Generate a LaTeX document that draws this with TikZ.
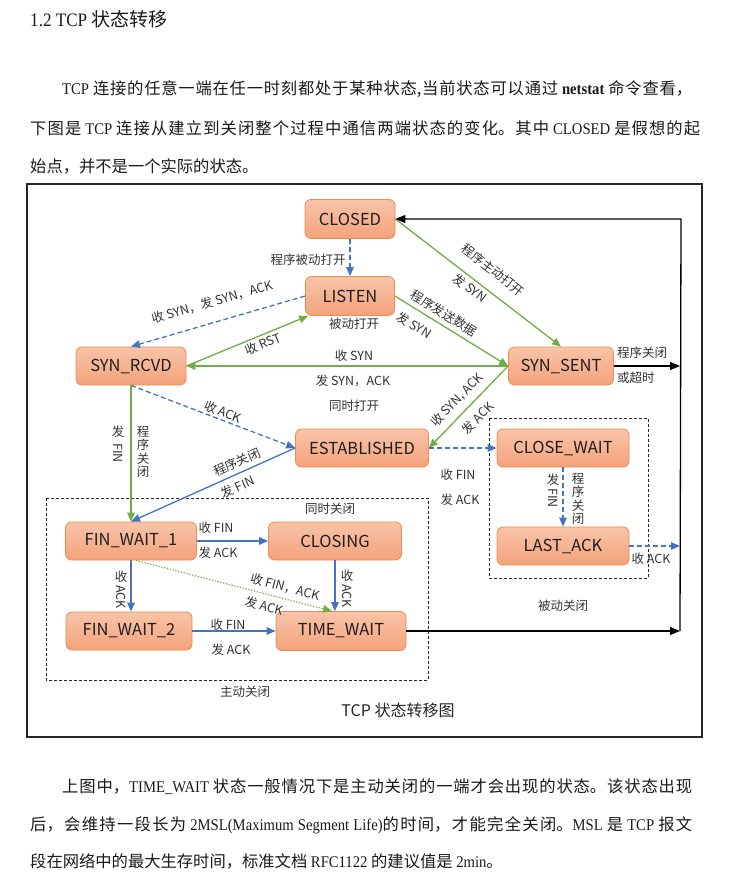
\documentclass[tikz,border=0pt]{standalone}
\usepackage{fontspec}
\setmainfont{Liberation Serif}[FakeStretch=0.9]
\newfontfamily\cjk{Noto Sans CJK SC}
\usetikzlibrary{arrows.meta,calc}

\definecolor{stateTop}{HTML}{F8C4A9}
\definecolor{stateBot}{HTML}{F4A27B}
\definecolor{stateEdge}{HTML}{F08C4C}
\definecolor{flowBlue}{HTML}{4472C4}
\definecolor{flowGreen}{HTML}{70AD47}
\definecolor{inkGray}{HTML}{333333}
\definecolor{bodyInk}{HTML}{1A1A1A}

% CJK run inside serif body text
\newcommand\zh[1]{{\cjk #1}}
% one justified line of body text, stretched to the given width
\newcommand\bodyline[2]{\parbox[t]{#1}{\parfillskip=0pt\tolerance=10000
  \XeTeXlinebreaklocale "zh"\XeTeXlinebreakskip=0pt plus 6pt\noindent #2}}

\begin{document}
\begin{tikzpicture}[x=1pt,y=-1pt,
  state/.style={rectangle, rounded corners=6pt, draw=stateEdge, line width=0.8pt,
    top color=stateTop, bottom color=stateBot, inner sep=0pt,
    font=\cjk\fontsize{16.5}{18}\selectfont, text=black!88},
  lbl/.style={inner sep=0pt, font=\cjk\fontsize{12.5}{14}\selectfont, text=inkGray},
  vlbl/.style={lbl, align=center, font=\cjk\fontsize{12.5}{13.4}\selectfont},
  tip/.style={-{Triangle[length=9pt,width=7.5pt]}},
  bigtip/.style={-{Triangle[length=10pt,width=8pt]}},
  blueflow/.style={tip, draw=flowBlue, line width=1.3pt},
  greenflow/.style={tip, draw=flowGreen, line width=1.3pt},
  blackflow/.style={bigtip, draw=black, line width=1.3pt},
  dashflow/.style={dash pattern=on 5pt off 3pt},
  dotflow/.style={dash pattern=on 1.3pt off 1.6pt},
  groupbox/.style={draw=black!85, line width=0.9pt, dash pattern=on 3pt off 2pt},
  body/.style={inner sep=0pt, anchor=base west, font=\fontsize{16.3}{20}\selectfont, text=bodyInk}
]
\useasboundingbox (0,0) rectangle (743,883);
\fill[white] (0,0) rectangle (743,883);

% ---------- heading and opening paragraph ----------
\node[body, font=\fontsize{19}{22}\selectfont] (head) at (30,27) {1.2 TCP \zh{状态转移}};
\node[body] (p1) at (62,94) {\bodyline{630pt}{TCP \zh{连接的任意一端在任一时刻都处于某种状态,当前状态可以通过} \textbf{netstat} \zh{命令查看，}}};
\node[body] (p2) at (30,134) {\bodyline{670pt}{\zh{下图是} TCP \zh{连接从建立到关闭整个过程中通信两端状态的变化。其中} CLOSED \zh{是假想的起}}};
\node[body] (p3) at (30,172) {\zh{始点，并不是一个实际的状态。}};

% ---------- figure frame ----------
\draw[line width=1.2pt, black!85] (27,184) rectangle (702,737);
\draw[groupbox] (46,498) rectangle (428,680);
\draw[groupbox] (489,418) rectangle (648,578);

% ---------- states ----------
\node[state, minimum width=90pt,  minimum height=39pt] (closed)    at (350,219) {CLOSED};
\node[state, minimum width=89pt,  minimum height=39pt] (listen)    at (350,296) {LISTEN};
\node[state, minimum width=110pt, minimum height=38pt] (synrcvd)   at (131,366) {SYN\_RCVD};
\node[state, minimum width=105pt, minimum height=38pt] (synsent)   at (561,366) {SYN\_SENT};
\node[state, minimum width=133pt, minimum height=38pt] (estab)     at (362,448) {ESTABLISHED};
\node[state, minimum width=132pt, minimum height=38pt] (closewait) at (563,448) {CLOSE\_WAIT};
\node[state, minimum width=132pt, minimum height=38pt] (lastack)   at (563,546) {LAST\_ACK};
\node[state, minimum width=131pt, minimum height=38pt] (fw1)       at (131,541) {FIN\_WAIT\_1};
\node[state, minimum width=133pt, minimum height=38pt] (closing)   at (335,541) {CLOSING};
\node[state, minimum width=126pt, minimum height=38pt] (fw2)       at (129,631) {FIN\_WAIT\_2};
\node[state, minimum width=130pt, minimum height=39pt] (timewait)  at (341,631) {TIME\_WAIT};

% ---------- return rail on the right ----------
\coordinate (railTop) at (681,219);
\coordinate (railBot) at (680,631);

% ---------- transitions ----------
\draw[blueflow, dashflow] (closed.south) -- (listen.north);
\draw[blueflow, dashflow] (listen.west) -- (synrcvd.north);
\draw[greenflow] (synrcvd.east) -- ([xshift=3pt]listen.south west);
\draw[greenflow] (synsent.west) -- (synrcvd.east);
\draw[greenflow] (closed.east) -- (synsent.north);
\draw[greenflow] (listen.east) -- (synsent.west);
\draw[greenflow] (synsent.west) -- (estab.east);
\draw[blueflow, dashflow] (synrcvd.south) -- (estab.west);
\draw[greenflow] (synrcvd.south) -- (fw1.north);
\draw[blueflow] (estab.west) -- (fw1.north);
\draw[blueflow, dashflow] (estab.east) -- (closewait.west);
\draw[blueflow, dashflow] (closewait.south) -- (lastack.north);
\draw[blueflow] (fw1.east) -- (closing.west);
\draw[blueflow] (fw1.south) -- (fw1.south |- fw2.north);
\draw[blueflow] (closing.south) -- (closing.south |- timewait.north);
\draw[greenflow, dotflow, line width=1.1pt] ([xshift=5pt]fw1.south) -- ([xshift=-3pt]closing.south |- timewait.north);
\draw[blueflow] (fw2.east) -- (timewait.west);

\draw[blackflow] (railBot) -- (railTop) -- (closed.east);
\draw[blackflow] (synsent.east) -- (synsent.east -| railBot);
\draw[blackflow] (timewait.east) -- (railBot);
\draw[blueflow, dashflow] (lastack.east) -- (lastack.east -| railBot);

% ---------- transition labels ----------
\node[lbl] at (308,260) {程序被动打开};
\node[lbl, rotate=16] at (212,302) {收 SYN，发 SYN，ACK};
\node[lbl, rotate=22] at (263,344) {收 RST};
\node[lbl] at (354,324) {被动打开};
\node[lbl] at (354,356) {收 SYN};
\node[lbl] at (353,381) {发 SYN，ACK};
\node[lbl] at (354,406) {同时打开};
\node[lbl, rotate=-37.6] at (493,270) {程序主动打开};
\node[lbl, rotate=-37.6] at (470,288) {发 SYN};
\node[lbl, rotate=-31.5] at (444,313) {程序发送数据};
\node[lbl, rotate=-31.5] at (414,325) {发 SYN};
\node[lbl, anchor=west] at (617,353) {程序关闭};
\node[lbl, anchor=west] at (617,378) {或超时};
\node[lbl, rotate=45.7] at (457,400) {收 SYN, ACK};
\node[lbl, rotate=45.7] at (478,418) {发 ACK};
\node[lbl, rotate=-21] at (223,412) {收 ACK};
\node[lbl] at (118,432) {发};
\node[lbl, rotate=-90] at (118,453) {FIN};
\node[vlbl] at (143,452) {程\\序\\关\\闭};
\node[lbl, rotate=24] at (237,462) {程序关闭};
\node[lbl, rotate=24] at (238,487) {发 FIN};
\node[lbl] at (458,475) {收 FIN};
\node[lbl] at (460,500) {发 ACK};
\node[lbl] at (553,480) {发};
\node[lbl, rotate=-90] at (553,498) {FIN};
\node[vlbl] at (578,499) {程\\序\\关\\闭};
\node[lbl] at (651,559) {收 ACK};
\node[lbl] at (330,509) {同时关闭};
\node[lbl] at (216,528) {收 FIN};
\node[lbl] at (218,553) {发 ACK};
\node[lbl] at (121,577) {收};
\node[lbl, rotate=-90] at (121,597) {ACK};
\node[lbl] at (347,576) {收};
\node[lbl, rotate=-90] at (347,596) {ACK};
\node[lbl, rotate=-15] at (285,587) {收 FIN，ACK};
\node[lbl, rotate=-15] at (264,606) {发 ACK};
\node[lbl] at (228,625) {收 FIN};
\node[lbl] at (231,650) {发 ACK};
\node[lbl] at (245,692) {主动关闭};
\node[lbl] at (563,606) {被动关闭};
\node[lbl, font=\cjk\fontsize{16}{18}\selectfont, text=black!85] at (398,710) {TCP 状态转移图};

% ---------- closing paragraph ----------
\node[body] (q1) at (62,792) {\bodyline{630pt}{\zh{上图中，}TIME\_WAIT \zh{状态一般情况下是主动关闭的一端才会出现的状态。该状态出现}}};
\node[body] (q2) at (30,830) {\bodyline{662pt}{\zh{后，会维持一段长为} 2MSL(Maximum Segment Life)\zh{的时间，才能完全关闭。}MSL \zh{是} TCP \zh{报文}}};
\node[body] (q3) at (30,867) {\zh{段在网络中的最大生存时间，标准文档} RFC1122 \zh{的建议值是} 2min\zh{。}};
\end{tikzpicture}
\end{document}
